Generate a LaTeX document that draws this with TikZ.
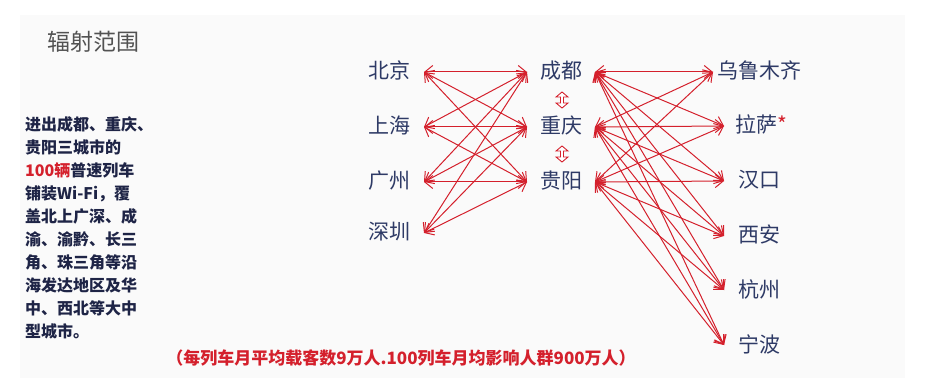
\documentclass[tikz,border=0pt]{standalone}
\usepackage{fontspec}
\setmainfont{Noto Sans CJK SC}
\usepackage{tikz}
\usetikzlibrary{positioning,arrows.meta}

\definecolor{linkred}{RGB}{212,32,44}
\definecolor{cityblue}{RGB}{46,58,102}
\definecolor{textnavy}{RGB}{30,36,70}

\tikzset{
  city/.style={text=cityblue, font=\fontsize{21}{24}\selectfont, inner ysep=0pt,
    outer sep=0pt, text height=1.4em, text depth=0pt},
  link/.style={draw=linkred, line width=1pt,
    {Straight Barb[length=8pt,width=13pt]}-{Straight Barb[length=8pt,width=13pt]}},
  updown/.style={draw=linkred, fill=white, line width=0.9pt, line join=miter}
}
\newcommand{\vdblarrow}[1]{\draw[updown, shift={#1}] (0,-8) -- (6,-3) -- (1.5,-3) -- (1.5,3) -- (6,3) -- (0,8) -- (-6,3) -- (-1.5,3) -- (-1.5,-3) -- (-6,-3) -- cycle;}

\begin{document}
\begin{tikzpicture}[x=1pt, y=-1pt]
    \useasboundingbox (0,0) rectangle (930,385);
    \fill[black!2] (20,15) rectangle (905,378);

    \node[anchor=west, text=black!68, font=\fontsize{23}{26}\selectfont, inner sep=0pt] (title) at (47,42) {辐射范围};

    \node[anchor=north west, inner sep=0pt, align=left, text=textnavy,
      font=\bfseries\fontsize{16}{23}\selectfont] (info) at (25,116)
      {进出成都、重庆、\\贵阳三城市的\\{\color{linkred}100辆}普速列车\\铺装Wi-Fi，覆\\盖北上广深、成\\渝、渝黔、长三\\角、珠三角等沿\\海发达地区及华\\中、西北等大中\\型城市。};

    % left column
    \node[city, anchor=east, inner xsep=14pt] (bj) at (424,72) {北京};
    \node[city, anchor=east, inner xsep=14pt] (sh) at (424,127) {上海};
    \node[city, anchor=east, inner xsep=14pt] (gz) at (424,182) {广州};
    \node[city, anchor=east, inner xsep=14pt] (sz) at (424,233) {深圳};

    % middle column
    \node[city, inner xsep=13pt] (cd) at (561,72) {成都};
    \node[city, inner xsep=13pt] (cq) at (561,127) {重庆};
    \node[city, inner xsep=13pt] (gy) at (561,182) {贵阳};
    \vdblarrow{(562,100)}
    \vdblarrow{(562,154)}

    % right column
    \node[city, anchor=west, inner xsep=4pt] (wlmq) at (713,72) {乌鲁木齐};
    \node[city, anchor=west, inner xsep=11pt] (ls) at (724,126) {拉萨\textcolor{linkred}{*}};
    \node[city, anchor=west, inner xsep=14pt] (hk) at (724,181) {汉口};
    \node[city, anchor=west, inner xsep=14pt] (xa) at (724,236) {西安};
    \node[city, anchor=west, inner xsep=14pt] (hz) at (724,290) {杭州};
    \node[city, anchor=west, inner xsep=14pt] (nb) at (724,345) {宁波};

    \foreach \a in {bj,sh,gz,sz}
      \foreach \b in {cd,cq,gy}
        \draw[link] (\a.east) -- (\b.west);
    \foreach \a in {cd,cq,gy}
      \foreach \b in {wlmq,ls,hk,xa,hz,nb}
        \draw[link] (\a.east) -- (\b.west);

    \node[text=linkred, font=\bfseries\fontsize{17}{20}\selectfont, inner sep=0pt] (note) at (401,358)
      {（每列车月平均载客数9万人.100列车月均影响人群900万人）};
  \end{tikzpicture}
\end{document}
